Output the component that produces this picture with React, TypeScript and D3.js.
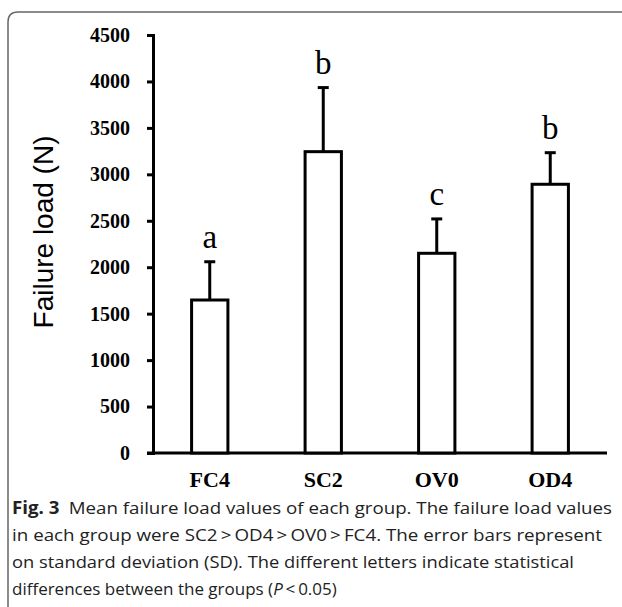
import React, { useEffect, useRef } from 'react';
import * as d3 from 'd3';

const groups = ['FC4', 'SC2', 'OV0', 'OD4'];
const means = [1647, 3244, 2150, 2893];
const sds = [412, 690, 370, 340];
const letters = ['a', 'b', 'c', 'b'];
const yTicks = [0, 500, 1000, 1500, 2000, 2500, 3000, 3500, 4000, 4500];
const captionLines = [
  'Mean failure load values of each group. The failure load values',
  'in each group were SC2\u2009>\u2009OD4\u2009>\u2009OV0\u2009>\u2009FC4. The error bars represent',
  'on standard deviation (SD). The different letters indicate statistical',
  'differences between the groups (',
];

const App = () => {
  const ref = useRef<SVGSVGElement>(null);

  useEffect(() => {
    const svg = d3.select(ref.current);
    svg.selectAll('*').remove();

    // scales
    const x = d3.scaleBand().domain(groups).range([153, 607]).paddingInner(0.68).paddingOuter(0.34);
    const y = d3.scaleLinear().domain([0, 4500]).range([453, 35]);

    // card border (top + left, rounded corner)
    svg
      .append('path')
      .attr('d', 'M8,607 L8,22 Q8,12 18,12 L622,12')
      .attr('fill', 'none')
      .attr('stroke', '#666')
      .attr('stroke-width', 1.5);

    // y axis
    const yAxis = d3.axisLeft(y).tickValues(yTicks).tickSize(6).tickPadding(17).tickFormat(d3.format('d'));
    const gy = svg.append('g').attr('transform', 'translate(153,0)').call(yAxis);
    gy.select('.domain').attr('stroke-width', 3);
    gy.selectAll('.tick line').attr('stroke-width', 3);
    gy.selectAll('.tick text')
      .attr('font-family', '"Liberation Serif", "Times New Roman", serif')
      .attr('font-weight', 'bold')
      .attr('font-size', 20)
      .attr('fill', '#000');

    // x axis line
    svg
      .append('line')
      .attr('x1', 147)
      .attr('x2', 607)
      .attr('y1', y(0))
      .attr('y2', y(0))
      .attr('stroke', '#000')
      .attr('stroke-width', 3);

    const xAxis = d3.axisBottom(x).tickSize(0).tickPadding(18);
    const gx = svg.append('g').attr('transform', `translate(0,${y(0)})`).call(xAxis);
    gx.select('.domain').remove();
    gx.selectAll('.tick text')
      .attr('font-family', '"Liberation Serif", "Times New Roman", serif')
      .attr('font-weight', 'bold')
      .attr('font-size', 22)
      .attr('fill', '#000');

    // bars
    svg
      .selectAll('rect.bar')
      .data(groups)
      .enter()
      .append('rect')
      .attr('class', 'bar')
      .attr('x', (d) => x(d)!)
      .attr('y', (d, i) => y(means[i]))
      .attr('width', x.bandwidth())
      .attr('height', (d, i) => y(0) - y(means[i]))
      .attr('fill', '#fff')
      .attr('stroke', '#000')
      .attr('stroke-width', 3);

    // error bars
    const cx = (d: string) => x(d)! + x.bandwidth() / 2;
    svg
      .selectAll('line.err')
      .data(groups)
      .enter()
      .append('line')
      .attr('class', 'err')
      .attr('x1', cx)
      .attr('x2', cx)
      .attr('y1', (d, i) => y(means[i]))
      .attr('y2', (d, i) => y(means[i] + sds[i]))
      .attr('stroke', '#000')
      .attr('stroke-width', 3);
    svg
      .selectAll('line.cap')
      .data(groups)
      .enter()
      .append('line')
      .attr('class', 'cap')
      .attr('x1', (d) => cx(d) - 5.5)
      .attr('x2', (d) => cx(d) + 5.5)
      .attr('y1', (d, i) => y(means[i] + sds[i]))
      .attr('y2', (d, i) => y(means[i] + sds[i]))
      .attr('stroke', '#000')
      .attr('stroke-width', 3);

    // significance letters
    svg
      .selectAll('text.letter')
      .data(groups)
      .enter()
      .append('text')
      .attr('class', 'letter')
      .attr('x', cx)
      .attr('y', (d, i) => y(means[i] + sds[i]) - 14)
      .attr('text-anchor', 'middle')
      .attr('font-family', '"Liberation Serif", "Times New Roman", serif')
      .attr('font-size', 33)
      .text((d, i) => letters[i]);

    // y title
    svg
      .append('text')
      .attr('transform', 'translate(53,232) rotate(-90)')
      .attr('text-anchor', 'middle')
      .attr('font-family', '"Liberation Sans", Arial, sans-serif')
      .attr('font-size', 28)
      .text('Failure load (N)');

    // caption
    const cap = svg
      .append('g')
      .attr('font-family', '"Open Sans", sans-serif')
      .attr('font-size', 17)
      .attr('fill', '#222');
    const t0 = cap.append('text').attr('x', 12).attr('y', 514).attr('textLength', 600).attr('lengthAdjust', 'spacingAndGlyphs');
    t0.append('tspan').attr('font-weight', 'bold').text('Fig. 3');
    t0.append('tspan').text('\u2002' + captionLines[0]);
    cap.append('text').attr('x', 12).attr('y', 541).attr('textLength', 590).attr('lengthAdjust', 'spacingAndGlyphs').text(captionLines[1]);
    cap.append('text').attr('x', 12).attr('y', 568).attr('textLength', 562).attr('lengthAdjust', 'spacingAndGlyphs').text(captionLines[2]);
    const t3 = cap.append('text').attr('x', 12).attr('y', 595);
    t3.append('tspan').text(captionLines[3]);
    t3.append('tspan').attr('font-style', 'italic').text('P');
    t3.append('tspan').text('\u2009<\u20090.05)');
  }, []);

  return (
    <>
      <style>{'body{margin:0}'}</style>
      <svg ref={ref} width={622} height={607} style={{ display: 'block', background: '#fff' }} />
    </>
  );
};

export default App;
